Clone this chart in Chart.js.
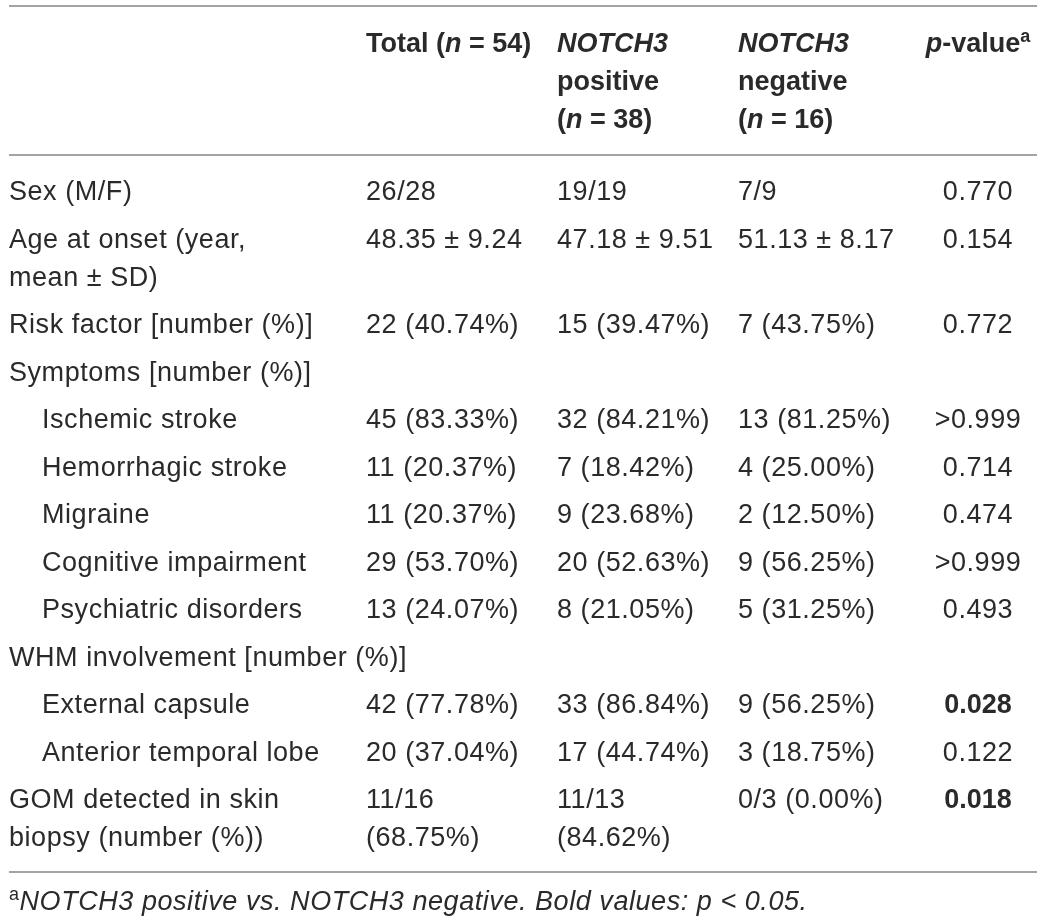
<!DOCTYPE html>
<html>
<head>
<meta charset="utf-8">
<title>NOTCH3 positive vs negative – clinical features</title>
<script src="https://cdn.jsdelivr.net/npm/chart.js@4.4.1/dist/chart.umd.min.js"></script>
<style>
  html, body { margin: 0; padding: 0; background: #fff; }
  #wrap { width: 1043px; height: 923px; }
</style>
</head>
<body>
<div id="wrap"><canvas id="table" width="1043" height="923"></canvas></div>
<script>
// Table content. "\n" marks a printed line break, _x_ italic, ^x^ superscript.
const columnHeaders = [
  'Total (_n_ = 54)',
  '_NOTCH3_\npositive\n(_n_ = 38)',
  '_NOTCH3_\nnegative\n(_n_ = 16)',
  '_p_-value^a^'
];

const rowLabels = [
  'Sex (M/F)',
  'Age at onset (year,\nmean ± SD)',
  'Risk factor [number (%)]',
  'Symptoms [number (%)]',
  'Ischemic stroke',
  'Hemorrhagic stroke',
  'Migraine',
  'Cognitive impairment',
  'Psychiatric disorders',
  'WHM involvement [number (%)]',
  'External capsule',
  'Anterior temporal lobe',
  'GOM detected in skin\nbiopsy (number (%))'
];

// 0 = main row, 1 = sub-item of the group above
const rowLevel = [0, 0, 0, 0, 1, 1, 1, 1, 1, 0, 1, 1, 0];

const totalValues = [
  '26/28', '48.35 ± 9.24', '22 (40.74%)', '',
  '45 (83.33%)', '11 (20.37%)', '11 (20.37%)', '29 (53.70%)', '13 (24.07%)',
  '', '42 (77.78%)', '20 (37.04%)', '11/16\n(68.75%)'
];

const positiveValues = [
  '19/19', '47.18 ± 9.51', '15 (39.47%)', '',
  '32 (84.21%)', '7 (18.42%)', '9 (23.68%)', '20 (52.63%)', '8 (21.05%)',
  '', '33 (86.84%)', '17 (44.74%)', '11/13\n(84.62%)'
];

const negativeValues = [
  '7/9', '51.13 ± 8.17', '7 (43.75%)', '',
  '13 (81.25%)', '4 (25.00%)', '2 (12.50%)', '9 (56.25%)', '5 (31.25%)',
  '', '9 (56.25%)', '3 (18.75%)', '0/3 (0.00%)'
];

const pValues = [
  '0.770', '0.154', '0.772', '',
  '>0.999', '0.714', '0.474', '>0.999', '0.493',
  '', '0.028', '0.122', '0.018'
];

const footnote = '^a^_NOTCH3 positive vs. NOTCH3 negative. Bold values: p < 0.05._';

// ---- layout (pixel units of the value space) ----
const W = 1043, H = 923;
const FONT = '"Liberation Sans", Arial, Helvetica, sans-serif';
const SIZE = 27, SUP_SIZE = 18, SUP_RISE = 10;
const SPACING = '0.55px', BOLD_SPACING = '0px';
const LINE = 38, PITCH = 47.5;
const TEXT_COLOR = '#2a2a2a';
const RULE_COLOR = '#a3a3a3';
const colX = [9, 366, 557, 738, 978];
const colAlign = ['left', 'left', 'left', 'left', 'center'];
const INDENT = 33;
const HEADER_BASE = 52, BODY_BASE = 200;
const RULE_LEFT = 9, RULE_RIGHT = 1037;

const bodyCols = [rowLabels, totalValues, positiveValues, negativeValues, pValues];

// row baselines from the number of printed lines per row
const rowBase = [];
let yCursor = BODY_BASE;
rowLabels.forEach((_, r) => {
  rowBase.push(yCursor);
  const lines = Math.max(...bodyCols.map(c => c[r].split('\n').length));
  yCursor += (lines - 1) * LINE + PITCH;
});
const lastRow = rowLabels.length - 1;
const lastLines = Math.max(...bodyCols.map(c => c[lastRow].split('\n').length));
const bottomRule = rowBase[lastRow] + (lastLines - 1) * LINE + 26;
const rules = [6, 155, bottomRule];
const footBase = bottomRule + 38;

// one point per printed line of text
function cellPoints(text, x, y0, extra) {
  if (!text) return [];
  return text.split('\n').map((t, k) => Object.assign({ x: x, y: y0 + k * LINE, text: t }, extra));
}

const datasets = [];
// header
columnHeaders.forEach((h, i) => {
  datasets.push({ data: cellPoints(h, colX[i + 1], HEADER_BASE, { bold: true, align: colAlign[i + 1] }) });
});
// body columns
bodyCols.forEach((col, c) => {
  const pts = [];
  col.forEach((v, r) => {
    const x = c === 0 ? colX[0] + rowLevel[r] * INDENT : colX[c];
    const bold = c === 4 && v[0] !== '>' && parseFloat(v) < 0.05;
    pts.push(...cellPoints(v, x, rowBase[r], { bold: bold, align: colAlign[c] }));
  });
  datasets.push({ data: pts });
});
// footnote
datasets.push({ data: cellPoints(footnote, colX[0], footBase, { bold: false, align: 'left' }) });
datasets.forEach(d => { d.pointRadius = 0; d.pointHoverRadius = 0; d.showLine = false; });

// split _italic_ and ^sup^ markup into runs
function parseRuns(s) {
  const runs = [];
  let cur = '', it = false, sup = false;
  const flush = () => { if (cur) runs.push({ t: cur, it: it, sup: sup }); cur = ''; };
  for (const ch of s) {
    if (ch === '_') { flush(); it = !it; }
    else if (ch === '^') { flush(); sup = !sup; }
    else cur += ch;
  }
  flush();
  return runs;
}

function fontFor(run, bold) {
  return (run.it ? 'italic ' : '') + (bold ? 'bold ' : '') + (run.sup ? SUP_SIZE : SIZE) + 'px ' + FONT;
}

const tableText = {
  id: 'tableText',
  beforeDraw(chart) {
    const { ctx, scales: { x, y } } = chart;
    ctx.save();
    ctx.strokeStyle = RULE_COLOR;
    ctx.lineWidth = 2;
    rules.forEach(v => {
      const py = Math.round(y.getPixelForValue(v));
      ctx.beginPath();
      ctx.moveTo(x.getPixelForValue(RULE_LEFT), py);
      ctx.lineTo(x.getPixelForValue(RULE_RIGHT), py);
      ctx.stroke();
    });
    ctx.restore();
  },
  afterDatasetsDraw(chart) {
    const ctx = chart.ctx;
    ctx.save();
    ctx.fillStyle = TEXT_COLOR;
    ctx.textBaseline = 'alphabetic';
    ctx.textAlign = 'left';
    chart.data.datasets.forEach((ds, di) => {
      const meta = chart.getDatasetMeta(di);
      meta.data.forEach((el, i) => {
        const raw = ds.data[i];
        ctx.letterSpacing = raw.bold ? BOLD_SPACING : SPACING;
        const runs = parseRuns(raw.text);
        let w = 0;
        runs.forEach(r => { ctx.font = fontFor(r, raw.bold); r.w = ctx.measureText(r.t).width; w += r.w; });
        let px = raw.align === 'center' ? el.x - w / 2 : el.x;
        runs.forEach(r => {
          ctx.font = fontFor(r, raw.bold);
          ctx.fillText(r.t, px, el.y - (r.sup ? SUP_RISE : 0));
          px += r.w;
        });
      });
    });
    ctx.restore();
  }
};

new Chart(document.getElementById('table'), {
  type: 'scatter',
  data: { datasets: datasets },
  options: {
    responsive: false,
    animation: false,
    events: [],
    layout: { padding: 0 },
    plugins: { legend: { display: false }, tooltip: { enabled: false } },
    scales: {
      x: { type: 'linear', min: 0, max: W, display: false },
      y: { type: 'linear', min: 0, max: H, reverse: true, display: false }
    }
  },
  plugins: [tableText]
});
</script>
</body>
</html>
